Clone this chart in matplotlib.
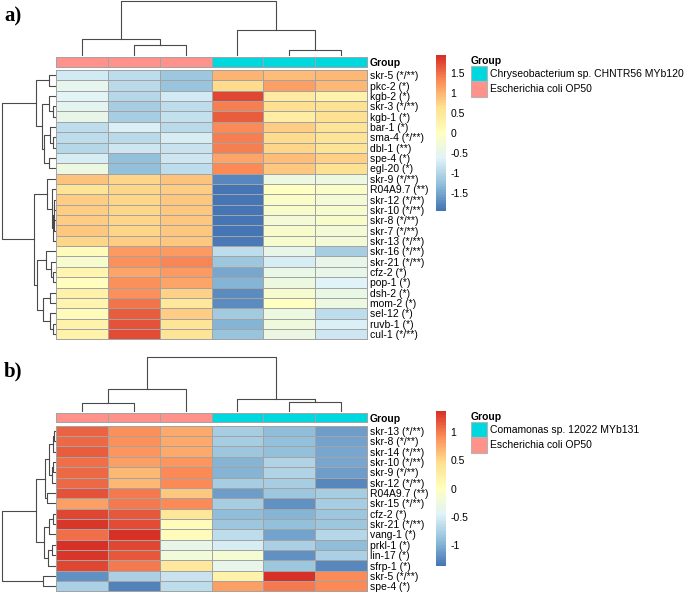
import numpy as np
import matplotlib
matplotlib.use('Agg')
from matplotlib import pyplot as plt
from matplotlib.colors import LinearSegmentedColormap, ListedColormap, Normalize
from matplotlib.cm import ScalarMappable
from matplotlib.patches import Patch

plt.rcParams['font.family'] = ['Liberation Sans', 'DejaVu Sans']

W, H = 685, 594

# ---- panel a data ----
genes_a = ['skr-5 (*/**)', 'pkc-2 (*)', 'kgb-2 (*)', 'skr-3 (*/**)', 'kgb-1 (*)', 'bar-1 (*)',
           'sma-4 (*/**)', 'dbl-1 (**)', 'spe-4 (*)', 'egl-20 (*)', 'skr-9 (*/**)', 'R04A9.7 (**)',
           'skr-12 (*/**)', 'skr-10 (*/**)', 'skr-8 (*/**)', 'skr-7 (*/**)', 'skr-13 (*/**)',
           'skr-16 (*/**)', 'skr-21 (*/**)', 'cfz-2 (*)', 'pop-1 (*)', 'dsh-2 (*)', 'mom-2 (*)',
           'sel-12 (*)', 'ruvb-1 (*)', 'cul-1 (*/**)']
values_a = [
    [-0.78, -0.91, -1.18, 0.99, 0.90, 0.96],
    [-0.51, -0.95, -1.24, 0.68, 1.15, 0.96],
    [-0.62, -1.01, -0.78, 1.77, 0.42, 0.27],
    [-0.55, -1.11, -0.90, 1.40, 0.65, 0.60],
    [-0.50, -1.11, -0.88, 1.61, 0.36, 0.62],
    [-0.93, -0.68, -0.95, 1.32, 0.80, 0.55],
    [-0.93, -0.97, -0.72, 1.38, 0.70, 0.55],
    [-1.00, -0.80, -0.83, 1.38, 0.72, 0.55],
    [-0.72, -1.25, -0.80, 1.10, 0.92, 0.75],
    [-0.38, -1.27, -0.93, 1.30, 0.82, 0.60],
    [0.86, 0.73, 0.86, -1.76, -0.38, -0.36],
    [0.58, 0.73, 0.78, -1.95, -0.02, -0.08],
    [0.80, 0.72, 0.83, -1.93, -0.10, -0.25],
    [0.80, 0.72, 0.83, -1.93, -0.12, -0.18],
    [0.80, 0.72, 0.83, -1.92, -0.25, -0.12],
    [0.82, 0.72, 0.83, -1.92, -0.15, -0.25],
    [0.74, 0.78, 0.83, -1.90, -0.18, -0.27],
    [0.05, 1.17, 1.17, -0.91, -0.50, -1.13],
    [-0.18, 1.25, 1.33, -1.20, -0.72, -0.50],
    [0.20, 1.10, 1.20, -1.50, -0.45, -0.50],
    [0.00, 1.25, 1.10, -1.37, -0.38, -0.65],
    [0.28, 1.25, 0.75, -1.72, -0.18, -0.45],
    [0.22, 1.48, 0.50, -1.72, -0.02, -0.38],
    [0.05, 1.62, 0.78, -1.15, -0.38, -0.93],
    [0.25, 1.68, 0.55, -1.40, -0.33, -0.70],
    [0.25, 1.72, 0.55, -1.22, -0.40, -0.80],
]
groups_a = ['Chryseobacterium sp. CHNTR56 MYb120', 'Escherichia coli OP50']
col_group_a = [1, 1, 1, 0, 0, 0]
# merges: (node, node, height); leaves in display order, new nodes numbered after leaves
col_merges_a = [(1, 2, 9.7), (0, 6, 16.3), (4, 5, 5.0), (3, 8, 25.3), (7, 9, 54.0)]
row_merges_a = [(0, 1, 6.2), (3, 4, 2.5), (2, 27, 6.5), (6, 7, 2.5), (5, 29, 5.0),
                (8, 9, 6.2), (30, 31, 11.0), (28, 32, 12.8), (26, 33, 19.8),
                (12, 13, 0.8), (14, 15, 0.8), (35, 36, 1.3), (37, 16, 1.8), (11, 38, 2.8),
                (10, 39, 8.0), (19, 20, 2.5), (18, 41, 4.5), (17, 42, 9.5), (21, 22, 5.5),
                (24, 25, 2.5), (23, 45, 5.5), (44, 46, 12.2), (43, 47, 18.2), (40, 48, 21.2),
                (34, 49, 53.8)]
ticks_a = [1.5, 1, 0.5, 0, -0.5, -1, -1.5]
lim_a = 1.95

# ---- panel b data ----
genes_b = ['skr-13 (*/**)', 'skr-8 (*/**)', 'skr-14 (*/**)', 'skr-10 (*/**)', 'skr-9 (*/**)',
           'skr-12 (*/**)', 'R04A9.7 (**)', 'skr-15 (*/**)', 'cfz-2 (*)', 'skr-21 (*/**)',
           'vang-1 (*)', 'prkl-1 (*)', 'lin-17 (*)', 'sfrp-1 (*)', 'skr-5 (*/**)', 'spe-4 (*)']
values_b = [
    [1.11, 0.88, 0.75, -0.78, -0.91, -1.12],
    [1.08, 0.88, 0.75, -0.78, -0.90, -1.07],
    [1.15, 0.85, 0.75, -0.83, -0.90, -1.05],
    [1.05, 0.80, 0.85, -0.97, -0.72, -1.05],
    [1.08, 0.68, 0.92, -0.97, -0.72, -1.12],
    [1.08, 0.68, 0.92, -0.78, -0.78, -1.25],
    [1.18, 1.00, 0.60, -1.12, -0.83, -0.78],
    [0.80, 1.00, 0.92, -0.78, -1.20, -0.78],
    [1.25, 1.17, 0.38, -0.91, -0.98, -0.83],
    [1.32, 1.22, 0.05, -0.83, -0.88, -0.83],
    [1.05, 1.35, 0.03, -0.65, -1.08, -0.70],
    [1.35, 1.25, -0.35, -0.52, -0.74, -0.93],
    [1.33, 1.17, -0.20, -0.15, -1.20, -0.74],
    [1.25, 1.00, 0.35, -0.35, -0.83, -1.25],
    [-1.20, -0.74, -0.58, 0.20, 1.35, 0.93],
    [-0.74, -1.28, -0.65, 0.80, 1.00, 0.93],
]
groups_b = ['Comamonas sp. 12022 MYb131', 'Escherichia coli OP50']
col_group_b = [1, 1, 1, 0, 0, 0]
col_merges_b = [(0, 1, 7.7), (6, 2, 21.7), (4, 5, 8.7), (3, 8, 12.4), (7, 9, 55.0)]
row_merges_b = [(0, 1, 1.5), (16, 2, 2.5), (3, 4, 2.0), (18, 5, 3.0), (17, 19, 6.0),
                (6, 7, 7.8), (20, 21, 10.5), (8, 9, 2.5), (23, 10, 6.2), (11, 12, 3.0),
                (25, 13, 7.0), (24, 26, 11.2), (22, 27, 19.8), (14, 15, 12.2), (28, 29, 53.8)]
ticks_b = [1, 0.5, 0, -0.5, -1]
lim_b = 1.37

group_colors = ['#00D8E0', '#FF928A']
cmap = LinearSegmentedColormap.from_list(
    'rdylbu', ['#4575B4', '#91BFDB', '#E0F3F8', '#FFFFBF', '#FEE090', '#FC8D59', '#D73027'], N=100)
border = '#A3A3A3'
fs = 7.5


def px(x0, y0, x1, y1):
    return [x0 / W, 1 - y1 / H, (x1 - x0) / W, (y1 - y0) / H]


def dendro(n, merges):
    pos = {i: i + 0.5 for i in range(n)}
    hgt = {i: 0.0 for i in range(n)}
    segs = []
    for k, (a, b, h) in enumerate(merges):
        segs.append(([pos[a], pos[a], pos[b], pos[b]], [hgt[a], h, h, hgt[b]]))
        pos[n + k] = (pos[a] + pos[b]) / 2
        hgt[n + k] = h
    return segs


def clean(ax):
    ax.set_xticks([])
    ax.set_yticks([])
    for s in ax.spines.values():
        s.set_visible(False)


def panel(fig, genes, values, col_group, groups, col_merges, row_merges, ticks, lim, y0, letter):
    # y0 = top of column dendrogram in pixels
    vals = np.array(values)
    n = len(genes)
    rowh = 10.36
    heat_top = y0 + 69
    heat_bot = heat_top + n * rowh
    hx0, hx1 = 55.7, 367.3

    ax = fig.add_axes(px(hx0, heat_top, hx1, heat_bot))
    ax.pcolormesh(np.arange(7), np.arange(n + 1), vals, cmap=cmap, vmin=-lim, vmax=lim,
                  edgecolors=border, linewidth=0.7, clip_on=False)
    ax.set_xlim(0, 6)
    ax.set_ylim(n, 0)
    clean(ax)
    ax.yaxis.tick_right()
    ax.set_yticks(np.arange(n) + 0.5)
    ax.set_yticklabels(genes, fontsize=fs)
    ax.tick_params(axis='y', length=0, pad=2)

    # annotation bar
    ann = fig.add_axes(px(hx0, y0 + 56, hx1, y0 + 65.7))
    ann.pcolormesh(np.arange(7), [0, 1], [col_group], cmap=ListedColormap(group_colors),
                   vmin=0, vmax=1, edgecolors=border, linewidth=0.7, clip_on=False)
    ann.set_xlim(0, 6)
    ann.set_ylim(1, 0)
    clean(ann)
    ann.yaxis.tick_right()
    ann.set_yticks([0.5])
    ann.set_yticklabels(['Group'], fontsize=fs, fontweight='bold')
    ann.tick_params(axis='y', length=0, pad=2)

    # column dendrogram
    cd = fig.add_axes(px(hx0, y0, hx1, y0 + 54))
    for xs, hs in dendro(6, col_merges):
        cd.plot(xs, hs, color='#4a4a4a', lw=0.8, clip_on=False)
    cd.set_xlim(0, 6)
    cd.set_ylim(0, col_merges[-1][2])
    cd.axis('off')

    # row dendrogram
    rd = fig.add_axes(px(1.7, heat_top, 55.2, heat_bot))
    for ys, hs in dendro(n, row_merges):
        rd.plot(hs, ys, color='#4a4a4a', lw=0.8, clip_on=False)
    rd.set_xlim(row_merges[-1][2], 0)
    rd.set_ylim(n, 0)
    rd.axis('off')

    # colour key
    cax = fig.add_axes(px(436, y0 + 54, 446, y0 + 209.7))
    cb = fig.colorbar(ScalarMappable(Normalize(-lim, lim), cmap), cax=cax)
    cb.outline.set_visible(False)
    cb.set_ticks(ticks)
    cb.set_ticklabels([f'{t:g}' for t in ticks])
    cax.tick_params(length=0, labelsize=fs, pad=3)

    # group legend
    handles = [Patch(facecolor=c, edgecolor='#B5B5B5', linewidth=0.8) for c in group_colors]
    fig.legend(handles, groups, loc='upper left', bbox_to_anchor=(471 / W, 1 - (y0 + 55) / H),
               frameon=False, title='Group', fontsize=fs, alignment='left',
               title_fontproperties={'weight': 'bold', 'size': fs},
               handlelength=1.5, handleheight=1.9, handletextpad=0.35,
               labelspacing=0.0, borderpad=0, borderaxespad=0)

    fig.text(4 / W, 1 - (y0 + 15) / H, letter, fontsize=15, fontweight='bold',
             family='Liberation Serif', va='center', ha='left')


fig = plt.figure(figsize=(W / 100, H / 100), dpi=100)
panel(fig, genes_a, values_a, col_group_a, groups_a, col_merges_a, row_merges_a,
      ticks_a, lim_a, 1, 'a)')
panel(fig, genes_b, values_b, col_group_b, groups_b, col_merges_b, row_merges_b,
      ticks_b, lim_b, 356.7, 'b)')
fig.savefig('out.png', dpi=100)
